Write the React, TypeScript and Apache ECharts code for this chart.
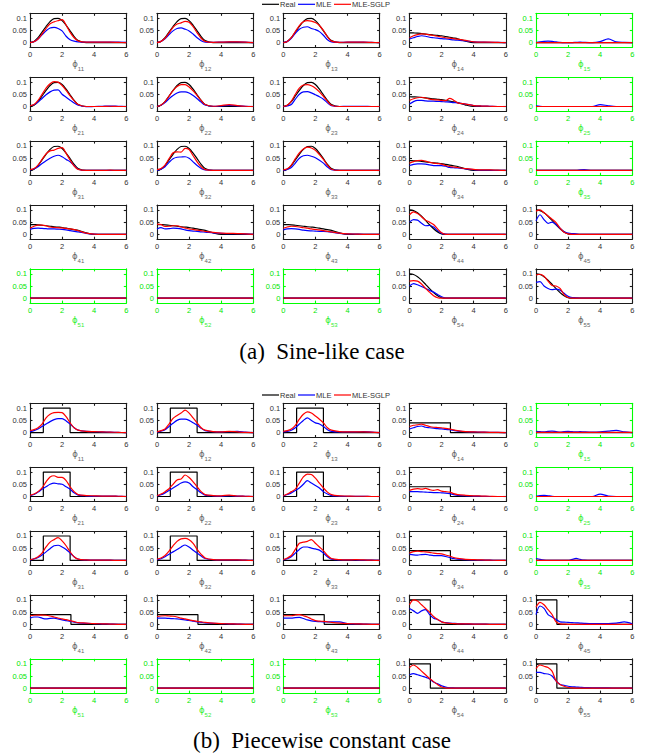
import React, { useEffect, useRef } from "react";
import * as echarts from "echarts";

// ---------- data ----------
const xGrid = [0, 0.25, 0.5, 0.75, 1, 1.25, 1.5, 1.75, 2, 2.25, 2.5, 2.75, 3, 3.5, 4, 4.5, 5, 5.5, 6];
const yTicks = [0, 0.05, 0.1];
const seriesNames = ["Real", "MLE", "MLE-SGLP"];
const captions = ["(a)  Sine-like case", "(b)  Piecewise constant case"];

// panel kinds (row-major, 5x5)
const realKinds = [
  "bump", "bump", "bump", "low", "zero",
  "bump", "bump", "bump", "low", "zero",
  "bump", "bump", "bump", "low", "zero",
  "low", "low", "low", "tall", "tall",
  "zero", "zero", "zero", "tall", "tall",
];

// true kernels, sine-like case (on xGrid)
const realBump = [0, 0.005, 0.02, 0.043, 0.066, 0.086, 0.098, 0.099, 0.09, 0.071, 0.048, 0.025, 0.008, 0, 0, 0, 0, 0, 0];
const realLow = [0.04, 0.0395, 0.039, 0.037, 0.035, 0.033, 0.031, 0.0295, 0.028, 0.025, 0.022, 0.019, 0.016, 0.006, 0, 0, 0, 0, 0];
const realTall = [0.1, 0.097, 0.088, 0.074, 0.057, 0.039, 0.023, 0.01, 0.002, 0, 0, 0, 0, 0, 0, 0, 0, 0, 0];
const realZero = [0, 0, 0, 0, 0, 0, 0, 0, 0, 0, 0, 0, 0, 0, 0, 0, 0, 0, 0];

// true kernels, piecewise constant case (step vertices)
const stepBumpX = [0, 0.83, 0.83, 2.5, 2.5, 6];
const stepBumpY = [0, 0, 0.1, 0.1, 0, 0];
const stepLowX = [0, 2.55, 2.55, 6];
const stepLowY = [0.04, 0.04, 0, 0];
const stepTallX = [0, 1.3, 1.3, 6];
const stepTallY = [0.1, 0.1, 0, 0];
const stepZeroX = [0, 6];
const stepZeroY = [0, 0];

const Z = [0, 0, 0, 0, 0, 0, 0, 0, 0, 0, 0, 0, 0, 0, 0, 0, 0, 0, 0];

// MLE estimates, sine-like case
const mleSine = [
  [0, .004, .015, .032, .048, .06, .062, .058, .048, .026, .012, .006, .003, .002, .002, .002, .002, .002, .001],
  [0, .005, .016, .033, .048, .058, .06, .055, .048, .035, .02, .008, .002, .001, .002, .003, .003, .002, 0],
  [0, .005, .018, .038, .055, .063, .065, .058, .053, .045, .03, .012, .003, .001, .002, .002, .002, .001, 0],
  [.015, .02, .025, .028, .026, .022, .02, .018, .016, .015, .013, .011, .01, .007, .003, .002, .001, .001, 0],
  [0, .003, .005, .006, .005, .003, .001, 0, 0, 0, .001, .002, .001, 0, .004, .015, .003, .001, 0],
  [.003, .007, .018, .033, .048, .06, .067, .068, .05, .038, .026, .014, .005, -.001, 0, .001, .002, .001, 0],
  [0, .005, .016, .032, .045, .055, .06, .06, .055, .045, .032, .018, .006, .001, .002, .005, .003, .001, 0],
  [0, .002, .008, .03, .05, .06, .061, .056, .048, .04, .03, .015, .003, 0, .001, .001, .001, 0, 0],
  [.01, .02, .025, .025, .023, .022, .022, .021, .02, .019, .018, .016, .015, .01, .004, .002, .001, 0, 0],
  [.003, .001, 0, 0, 0, 0, 0, 0, 0, 0, 0, 0, 0, 0, .008, .003, 0, 0, 0],
  [.002, .006, .015, .028, .04, .05, .058, .062, .056, .045, .035, .02, .005, 0, 0, 0, 0, 0, 0],
  [0, .005, .015, .033, .048, .054, .055, .056, .05, .035, .02, .008, .002, 0, 0, 0, 0, 0, 0],
  [0, .004, .012, .03, .05, .06, .062, .058, .052, .042, .03, .014, .003, 0, 0, 0, 0, 0, 0],
  [.02, .025, .027, .027, .026, .023, .02, .02, .02, .017, .012, .011, .01, .006, .003, .001, .001, 0, 0],
  [0, 0, 0, 0, 0, 0, 0, 0, 0, 0, 0, .002, .003, 0, 0, 0, 0, 0, 0],
  [.02, .024, .025, .024, .023, .022, .022, .021, .02, .018, .015, .012, .01, .004, .001, 0, 0, 0, 0],
  [.022, .027, .022, .023, .025, .024, .022, .018, .015, .013, .012, .01, .009, .006, .004, .003, .003, .002, 0],
  [.018, .022, .023, .022, .02, .017, .015, .014, .013, .012, .012, .011, .009, .004, .002, .001, 0, 0, 0],
  [.05, .06, .058, .045, .035, .036, .03, .015, .004, .001, 0, 0, 0, 0, 0, 0, 0, 0, 0],
  [.055, .08, .06, .045, .05, .04, .025, .01, .005, .003, .002, 0, 0, 0, 0, 0, 0, 0, 0],
  Z,
  Z,
  Z,
  [.05, .06, .055, .048, .04, .032, .025, .015, .006, .001, 0, 0, 0, 0, 0, 0, 0, 0, 0],
  [.065, .068, .05, .04, .035, .037, .033, .02, .008, .003, .002, 0, 0, 0, 0, 0, 0, 0, 0],
];

// MLE-SGLP estimates, sine-like case
const sglpSine = [
  [0, .004, .015, .035, .058, .077, .085, .09, .094, .072, .042, .02, .007, .002, .002, .002, .002, .001, 0],
  [0, .005, .018, .04, .062, .076, .081, .087, .083, .065, .04, .018, .005, .001, .002, .003, .003, .002, 0],
  [0, .005, .02, .045, .07, .085, .09, .088, .082, .07, .05, .025, .006, .001, .002, .002, .002, .001, 0],
  [.02, .028, .033, .036, .035, .032, .029, .026, .023, .02, .018, .016, .014, .009, .003, .002, .002, .001, 0],
  Z,
  [.003, .008, .025, .05, .075, .093, .102, .1, .086, .066, .044, .024, .008, 0, 0, 0, .001, 0, 0],
  [0, .006, .02, .042, .065, .082, .09, .09, .08, .064, .045, .025, .008, .001, .004, .008, .004, .001, 0],
  [0, .005, .022, .05, .075, .088, .09, .085, .075, .06, .042, .022, .005, 0, 0, 0, 0, 0, 0],
  [.025, .032, .036, .038, .035, .03, .028, .027, .025, .024, .033, .026, .015, .01, .004, .002, .001, 0, 0],
  Z,
  [.003, .008, .022, .045, .068, .08, .083, .09, .093, .07, .042, .018, .004, 0, 0, 0, .001, 0, 0],
  [.003, .008, .022, .048, .072, .076, .075, .09, .085, .06, .035, .015, .003, 0, 0, 0, 0, 0, 0],
  [.002, .007, .022, .048, .072, .088, .095, .092, .082, .065, .045, .022, .005, 0, 0, 0, 0, 0, 0],
  [.03, .036, .04, .041, .038, .033, .03, .028, .026, .02, .016, .014, .012, .007, .004, .002, .002, .001, 0],
  Z,
  [.025, .033, .038, .038, .035, .03, .028, .027, .026, .024, .022, .019, .015, .005, .001, 0, 0, 0, 0],
  [.042, .04, .032, .033, .035, .035, .03, .026, .022, .02, .017, .015, .012, .008, .005, .004, .003, .002, 0],
  [.025, .03, .033, .032, .03, .027, .025, .022, .02, .018, .015, .012, .01, .005, .002, .001, 0, 0, 0],
  [.08, .092, .085, .072, .058, .05, .04, .022, .006, 0, 0, 0, 0, 0, 0, 0, 0, 0, 0],
  [.095, .1, .088, .075, .062, .048, .025, .008, .002, 0, 0, 0, 0, 0, 0, 0, 0, 0, 0],
  Z,
  Z,
  Z,
  [.07, .072, .07, .058, .04, .025, .01, .002, 0, 0, 0, 0, 0, 0, 0, 0, 0, 0, 0],
  [.095, .098, .09, .07, .052, .05, .04, .015, .003, 0, 0, 0, 0, 0, 0, 0, 0, 0, 0],
];

// MLE estimates, piecewise constant case
const mlePiece = [
  [.003, .008, .015, .025, .035, .045, .053, .057, .057, .048, .035, .02, .01, .005, .004, .003, .002, .001, 0],
  [.002, .006, .012, .025, .038, .05, .055, .055, .05, .04, .03, .018, .008, .004, .003, .004, .005, .002, 0],
  [.003, .005, .01, .02, .035, .05, .06, .05, .04, .035, .025, .012, .005, .003, .003, .003, .004, .002, 0],
  [.015, .02, .025, .027, .022, .02, .018, .016, .015, .013, .012, .009, .006, .004, .003, .002, .001, .001, 0],
  [.005, .004, .003, .005, .006, .004, .002, .004, .005, .004, .003, .004, .003, .002, .003, .006, .009, .003, 0],
  [.003, .008, .018, .03, .04, .05, .055, .052, .05, .04, .03, .015, .006, .003, .002, .002, .002, .001, 0],
  [.002, .007, .015, .025, .035, .045, .055, .06, .055, .04, .028, .015, .006, .003, .002, .004, .002, .001, 0],
  [.002, .008, .015, .025, .035, .05, .065, .055, .045, .035, .02, .01, .004, .002, .001, .001, .001, 0, 0],
  [.02, .02, .02, .019, .018, .017, .016, .016, .015, .014, .012, .008, .005, .003, .002, .001, 0, 0, 0],
  [.001, .004, .005, .003, .001, 0, 0, 0, 0, 0, 0, 0, 0, 0, .01, .002, 0, 0, 0],
  [.002, .006, .012, .022, .035, .048, .06, .062, .055, .045, .03, .015, .005, .002, .001, .001, .001, 0, 0],
  [.003, .007, .015, .025, .035, .045, .055, .063, .055, .042, .03, .018, .008, .003, .002, .002, .002, .001, 0],
  [.002, .007, .015, .03, .045, .055, .055, .05, .047, .042, .03, .015, .005, .002, .002, .002, .001, .001, 0],
  [.025, .023, .022, .024, .025, .022, .02, .02, .02, .016, .012, .008, .005, .003, .002, .001, .001, 0, 0],
  [.008, .004, .001, 0, 0, 0, 0, 0, 0, .004, .008, .004, .001, 0, 0, 0, 0, 0, 0],
  [.025, .03, .03, .025, .022, .024, .025, .022, .018, .015, .012, .009, .006, .004, .003, .002, .001, 0, 0],
  [.025, .025, .025, .024, .023, .022, .02, .018, .016, .013, .01, .008, .006, .004, .003, .002, .001, 0, 0],
  [.025, .025, .025, .027, .028, .024, .018, .014, .012, .011, .01, .01, .01, .01, .003, .002, .001, 0, 0],
  [.065, .055, .045, .055, .06, .04, .025, .02, .01, .007, .005, .004, .003, .002, .001, .001, 0, 0, 0],
  [.04, .075, .065, .04, .03, .02, .01, .009, .008, .007, .006, .005, .004, .003, .003, .003, .005, .01, .002],
  Z,
  Z,
  Z,
  [.055, .06, .055, .05, .045, .038, .025, .018, .01, .005, .002, .001, 0, 0, 0, 0, 0, 0, 0],
  [.065, .065, .06, .058, .05, .03, .015, .012, .008, .006, .005, .004, .003, .002, .001, .001, 0, 0, 0],
];

// MLE-SGLP estimates, piecewise constant case
const sglpPiece = [
  [.008, .012, .02, .035, .06, .075, .082, .083, .082, .065, .04, .02, .01, .005, .004, .003, .002, .001, 0],
  [.003, .008, .015, .035, .058, .07, .08, .092, .08, .06, .04, .02, .01, .004, .003, .005, .003, .001, 0],
  [.005, .008, .015, .03, .055, .075, .085, .08, .068, .055, .04, .02, .01, .004, .003, .003, .003, .002, 0],
  [.025, .03, .032, .035, .03, .025, .022, .021, .02, .017, .015, .011, .008, .004, .003, .002, .001, .001, 0],
  [.001, .001, .001, .001, .001, .001, .001, .001, .001, .001, .001, .001, .001, .001, .001, .001, .001, .001, .001],
  [.005, .01, .02, .035, .06, .08, .085, .078, .078, .065, .04, .02, .008, .004, .003, .002, .002, .001, 0],
  [.003, .01, .02, .032, .05, .068, .072, .088, .078, .06, .04, .02, .008, .004, .003, .006, .002, .001, 0],
  [.003, .01, .02, .03, .055, .08, .092, .09, .075, .055, .035, .018, .008, .003, .002, .001, .001, 0, 0],
  [.025, .03, .032, .03, .033, .028, .025, .028, .022, .02, .018, .012, .008, .005, .003, .002, .001, 0, 0],
  Z,
  [.003, .007, .015, .03, .055, .075, .085, .093, .08, .06, .035, .015, .005, .002, .001, .001, .001, 0, 0],
  [.005, .01, .02, .038, .06, .078, .088, .09, .085, .07, .045, .025, .01, .003, .002, .002, .002, .001, 0],
  [.003, .01, .02, .045, .07, .075, .078, .085, .07, .055, .04, .02, .008, .003, .002, .003, .002, .001, 0],
  [.03, .036, .038, .036, .035, .033, .03, .028, .027, .022, .018, .012, .008, .004, .003, .002, .001, 0, 0],
  Z,
  [.035, .037, .038, .038, .037, .034, .03, .026, .022, .019, .015, .011, .007, .005, .003, .002, .001, 0, 0],
  [.032, .034, .035, .034, .033, .03, .025, .022, .018, .015, .012, .01, .008, .005, .003, .002, .001, 0, 0],
  [.035, .035, .035, .038, .04, .035, .03, .022, .015, .013, .012, .01, .008, .005, .003, .002, .001, 0, 0],
  [.08, .1, .095, .08, .065, .05, .032, .02, .01, .006, .004, .003, .002, .002, .001, .001, 0, 0, 0],
  [.07, .09, .08, .06, .04, .01, .002, .001, 0, 0, 0, 0, 0, 0, 0, 0, 0, 0, 0],
  Z,
  Z,
  Z,
  [.085, .095, .085, .07, .055, .04, .027, .015, .005, .001, 0, 0, 0, 0, 0, 0, 0, 0, 0],
  [.08, .095, .09, .085, .07, .03, .015, .008, .003, .001, 0, 0, 0, 0, 0, 0, 0, 0, 0],
];

// ---------- layout ----------
const colLeft = [30, 157, 283.3, 409.5, 536];
const partTop = [13.3, 403.3];
const rowStep = 63.9;
const plotW = 96.3;
const plotH = 34.2;
const legendTop = [4.3, 395];
const captionY = [351, 740];
const lineColors = ["#000000", "#0000ff", "#ff0000"];

const realSine: Record<string, number[]> = { bump: realBump, low: realLow, tall: realTall, zero: realZero };
const realStep: Record<string, [number[], number[]]> = {
  bump: [stepBumpX, stepBumpY],
  low: [stepLowX, stepLowY],
  tall: [stepTallX, stepTallY],
  zero: [stepZeroX, stepZeroY],
};

function buildOption() {
  const grid: any[] = [];
  const xAxis: any[] = [];
  const yAxis: any[] = [];
  const series: any[] = [];
  const graphic: any[] = [];
  let gi = 0;
  const fontFam = "Liberation Sans, Arial, sans-serif";
  for (let p = 0; p < 2; p++) {
    const mle = p === 0 ? mleSine : mlePiece;
    const sglp = p === 0 ? sglpSine : sglpPiece;
    for (let r = 0; r < 5; r++) {
      for (let c = 0; c < 5; c++) {
        const k = r * 5 + c;
        const kind = realKinds[k];
        const green = kind === "zero";
        const axisColor = green ? "#00ff00" : "#1a1a1a";
        const textColor = green ? "#00e600" : "#333333";
        const nameColor = green ? "#33ee33" : "#666666";
        grid.push({ left: colLeft[c], top: partTop[p] + r * rowStep, width: plotW, height: plotH });
        const ls = { color: axisColor, width: 1.1 };
        const tick = { show: true, inside: true, length: 2.5, lineStyle: ls };
        xAxis.push({
          gridIndex: gi, type: "value", min: 0, max: 6, interval: 2, position: "bottom",
          axisLine: { show: true, onZero: false, lineStyle: ls },
          axisTick: tick,
          axisLabel: { show: true, margin: 3, fontSize: 7.5, color: textColor, fontFamily: fontFam },
          splitLine: { show: false },
          name: `{p|\u03D5}{s|${r + 1}${c + 1}}`,
          nameLocation: "middle",
          nameGap: 11,
          nameTextStyle: {
            color: nameColor,
            rich: {
              p: { fontSize: 8.5, lineHeight: 13, verticalAlign: "top", color: nameColor, fontFamily: "DejaVu Sans" },
              s: { fontSize: 6, lineHeight: 7, verticalAlign: "bottom", color: nameColor, fontFamily: fontFam },
            },
          },
        });
        xAxis.push({
          gridIndex: gi, type: "value", min: 0, max: 6, interval: 2, position: "top",
          axisLine: { show: true, onZero: false, lineStyle: ls },
          axisTick: tick, axisLabel: { show: false }, splitLine: { show: false },
        });
        yAxis.push({
          gridIndex: gi, type: "value", min: -0.02, max: 0.12, position: "left",
          axisLine: { show: true, onZero: false, lineStyle: ls },
          axisTick: { ...tick, customValues: yTicks },
          axisLabel: { show: true, margin: 3, fontSize: 7.5, color: textColor, fontFamily: fontFam, customValues: yTicks },
          splitLine: { show: false },
        });
        yAxis.push({
          gridIndex: gi, type: "value", min: -0.02, max: 0.12, position: "right",
          axisLine: { show: true, onZero: false, lineStyle: ls },
          axisTick: { ...tick, customValues: yTicks },
          axisLabel: { show: false }, splitLine: { show: false },
        });
        const xi = 2 * gi;
        const yi = 2 * gi;
        let realData: number[][];
        if (p === 0) {
          const arr = realSine[kind];
          realData = xGrid.map((x, j) => [x, arr[j]]);
        } else {
          const [sx, sy] = realStep[kind];
          realData = sx.map((x, j) => [x, sy[j]]);
        }
        const common = { type: "line", xAxisIndex: xi, yAxisIndex: yi, symbol: "none", showSymbol: false, silent: true };
        series.push({
          ...common, name: seriesNames[0], data: realData, smooth: p === 0 ? 0.3 : false,
          lineStyle: { color: lineColors[0], width: 1.2 }, itemStyle: { color: lineColors[0] },
        });
        series.push({
          ...common, name: seriesNames[1], data: xGrid.map((x, j) => [x, mle[k][j]]), smooth: 0.3,
          lineStyle: { color: lineColors[1], width: 1.2 }, itemStyle: { color: lineColors[1] },
        });
        series.push({
          ...common, name: seriesNames[2], data: xGrid.map((x, j) => [x, sglp[k][j]]), smooth: 0.3,
          lineStyle: { color: lineColors[2], width: 1.2 }, itemStyle: { color: lineColors[2] },
        });
        gi++;
      }
    }
  }
  // legends (line sample + label), drawn as graphic elements
  const legendX = [262, 298, 334];
  legendTop.forEach((ly) => {
    seriesNames.forEach((nm, i) => {
      graphic.push({
        type: "line", silent: true,
        shape: { x1: legendX[i], y1: ly, x2: legendX[i] + 17, y2: ly },
        style: { stroke: lineColors[i], lineWidth: 1.2 },
      });
      graphic.push({
        type: "text", silent: true, x: legendX[i] + 18, y: ly,
        style: { text: nm, fill: "#333333", font: `7.5px ${fontFam}`, textAlign: "left", textVerticalAlign: "middle" },
      });
    });
  });
  captions.forEach((txt, i) => {
    graphic.push({
      type: "text", x: 322, y: captionY[i], silent: true,
      style: { text: txt, fill: "#000", font: '23px "Liberation Serif", "Times New Roman", serif', textAlign: "center", textVerticalAlign: "middle" },
    });
  });
  return { animation: false, backgroundColor: "#ffffff", grid, xAxis, yAxis, series, graphic };
}

export default function App() {
  const ref = useRef<HTMLDivElement>(null);
  useEffect(() => {
    document.body.style.margin = "0";
    const chart = echarts.init(ref.current!, undefined, { renderer: "svg" });
    chart.setOption(buildOption() as any);
    return () => chart.dispose();
  }, []);
  return <div ref={ref} style={{ width: 645, height: 755 }} />;
}
